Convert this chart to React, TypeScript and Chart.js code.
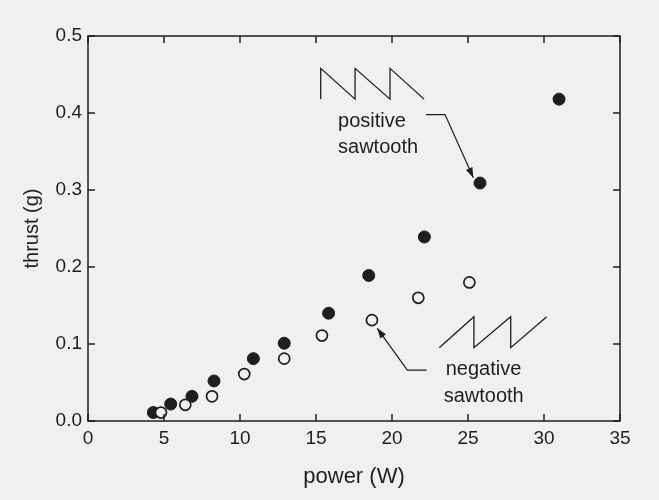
import React, { useEffect, useRef } from "react";
import { Chart, registerables } from "chart.js";

Chart.register(...registerables);

// ---- data (power in W, thrust in g) ----
const positiveX = [4.3, 5.44, 6.84, 8.29, 10.88, 12.91, 15.83, 18.47, 22.13, 25.79, 30.99];
const positiveY = [0.011, 0.022, 0.032, 0.052, 0.081, 0.101, 0.14, 0.189, 0.239, 0.309, 0.418];
const negativeX = [4.8, 6.4, 8.16, 10.28, 12.91, 15.39, 18.68, 21.73, 25.09];
const negativeY = [0.011, 0.021, 0.032, 0.061, 0.081, 0.111, 0.131, 0.16, 0.18];

const xTickValues = [0, 5, 10, 15, 20, 25, 30, 35];
const yTickValues = [0, 0.1, 0.2, 0.3, 0.4, 0.5];

// ---- annotation glyphs in data units ----
const positiveSawX = [15.31, 15.31, 17.57, 17.57, 19.87, 19.87, 22.11];
const positiveSawY = [0.418, 0.458, 0.418, 0.458, 0.418, 0.458, 0.418];
const negativeSawX = [23.11, 25.39, 25.39, 27.81, 27.81, 30.18];
const negativeSawY = [0.0952, 0.1355, 0.0952, 0.1355, 0.0952, 0.1355];
const positiveArrowX = [22.24, 23.49, 25.35];
const positiveArrowY = [0.398, 0.398, 0.316];
const negativeArrowX = [22.28, 21.01, 19.03];
const negativeArrowY = [0.0662, 0.0662, 0.1204];
const labelTexts = ["positive", "sawtooth", "negative", "sawtooth"];
const labelX = [16.45, 16.45, 23.53, 23.4];
const labelY = [0.3822, 0.3477, 0.0597, 0.0247];

const INK = "#1e1e1e";
const PAPER = "#f0f0f0";
const FONT = "'Liberation Sans', Arial, Helvetica, sans-serif";

const framePlugin = {
  id: "frame",
  afterDraw(chart: any) {
    const { ctx, chartArea: a, scales } = chart;
    const xs = scales.x;
    const ys = scales.y;
    ctx.save();
    ctx.strokeStyle = INK;
    ctx.lineWidth = 1.5;
    ctx.strokeRect(a.left, a.top, a.right - a.left, a.bottom - a.top);
    const tl = 7;
    ctx.beginPath();
    xTickValues.forEach((v) => {
      const px = xs.getPixelForValue(v);
      ctx.moveTo(px, a.bottom);
      ctx.lineTo(px, a.bottom - tl);
      ctx.moveTo(px, a.top);
      ctx.lineTo(px, a.top + tl);
    });
    yTickValues.forEach((v) => {
      const py = ys.getPixelForValue(v);
      ctx.moveTo(a.left, py);
      ctx.lineTo(a.left + tl, py);
      ctx.moveTo(a.right, py);
      ctx.lineTo(a.right - tl, py);
    });
    ctx.stroke();

    const poly = (X: number[], Y: number[]) => {
      ctx.beginPath();
      X.forEach((x, i) => {
        const px = xs.getPixelForValue(x);
        const py = ys.getPixelForValue(Y[i]);
        if (i === 0) ctx.moveTo(px, py);
        else ctx.lineTo(px, py);
      });
      ctx.stroke();
    };
    const arrowHead = (X: number[], Y: number[]) => {
      const n = X.length;
      const x1 = xs.getPixelForValue(X[n - 2]);
      const y1 = ys.getPixelForValue(Y[n - 2]);
      const x2 = xs.getPixelForValue(X[n - 1]);
      const y2 = ys.getPixelForValue(Y[n - 1]);
      const ang = Math.atan2(y2 - y1, x2 - x1);
      const len = 10;
      const w = 3.5;
      ctx.beginPath();
      ctx.moveTo(x2, y2);
      ctx.lineTo(x2 - len * Math.cos(ang) + w * Math.sin(ang), y2 - len * Math.sin(ang) - w * Math.cos(ang));
      ctx.lineTo(x2 - len * Math.cos(ang) - w * Math.sin(ang), y2 - len * Math.sin(ang) + w * Math.cos(ang));
      ctx.closePath();
      ctx.fill();
    };
    ctx.lineWidth = 1.3;
    ctx.fillStyle = INK;
    poly(positiveSawX, positiveSawY);
    poly(negativeSawX, negativeSawY);
    ctx.lineWidth = 1.2;
    poly(positiveArrowX, positiveArrowY);
    arrowHead(positiveArrowX, positiveArrowY);
    poly(negativeArrowX, negativeArrowY);
    arrowHead(negativeArrowX, negativeArrowY);

    ctx.font = `20px ${FONT}`;
    ctx.textAlign = "left";
    ctx.textBaseline = "alphabetic";
    labelTexts.forEach((t, i) => {
      ctx.fillText(t, xs.getPixelForValue(labelX[i]), ys.getPixelForValue(labelY[i]));
    });
    ctx.restore();
  },
};

export default function App() {
  const ref = useRef<HTMLCanvasElement | null>(null);
  useEffect(() => {
    if (!ref.current) return;
    const chart = new Chart(ref.current, {
      type: "scatter",
      data: {
        datasets: [
          {
            label: "negative sawtooth",
            data: negativeX.map((x, i) => ({ x, y: negativeY[i] })),
            backgroundColor: PAPER,
            borderColor: INK,
            borderWidth: 1.7,
            pointRadius: 5.5,
            order: 0,
          },
          {
            label: "positive sawtooth",
            data: positiveX.map((x, i) => ({ x, y: positiveY[i] })),
            backgroundColor: INK,
            borderColor: INK,
            borderWidth: 1,
            pointRadius: 6,
            order: 1,
          },
        ],
      },
      options: {
        animation: false,
        responsive: false,
        layout: { padding: { top: 36, right: 39, left: 0, bottom: 0 } },
        plugins: { legend: { display: false }, tooltip: { enabled: false } },
        scales: {
          x: {
            type: "linear",
            min: 0,
            max: 35,
            afterFit: (s: any) => {
              s.height = 79;
            },
            afterBuildTicks: (s: any) => {
              s.ticks = xTickValues.map((v) => ({ value: v }));
            },
            grid: { display: false, drawTicks: false },
            border: { display: false },
            ticks: {
              padding: 6,
              color: INK,
              font: { family: FONT, size: 19 },
              maxRotation: 0,
              callback: (v: any) => String(v),
            },
            title: {
              display: true,
              text: "power (W)",
              color: INK,
              font: { family: FONT, size: 22 },
              padding: { top: 0, bottom: 10 },
            },
          },
          y: {
            type: "linear",
            min: 0,
            max: 0.5,
            afterFit: (s: any) => {
              s.width = 88;
            },
            afterBuildTicks: (s: any) => {
              s.ticks = yTickValues.map((v) => ({ value: v }));
            },
            grid: { display: false, drawTicks: false },
            border: { display: false },
            ticks: {
              padding: 6,
              color: INK,
              font: { family: FONT, size: 19 },
              callback: (v: any) => Number(v).toFixed(1),
            },
            title: {
              display: true,
              text: "thrust (g)",
              color: INK,
              font: { family: FONT, size: 20 },
              padding: { top: 20, bottom: 0 },
            },
          },
        },
      },
      plugins: [framePlugin],
    });
    return () => chart.destroy();
  }, []);
  return (
    <div style={{ position: "absolute", left: 0, top: 0, width: 659, height: 500, background: PAPER }}>
      <canvas ref={ref} width={659} height={500} />
    </div>
  );
}
